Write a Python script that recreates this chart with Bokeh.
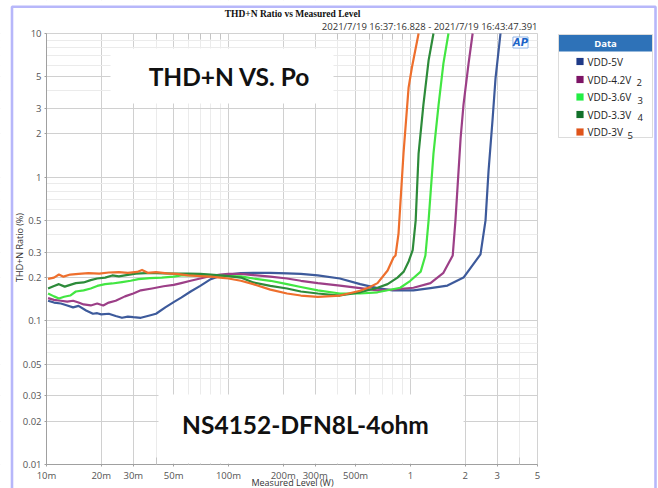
from bokeh.plotting import figure
from bokeh.models import FixedTicker, Label, BoxAnnotation, LogAxis
from bokeh.embed import file_html
from bokeh.resources import INLINE
import math

# ---------------- data ----------------
series_names = ["VDD-5V", "VDD-4.2V", "VDD-3.6V", "VDD-3.3V", "VDD-3V"]
series_tags = ["", "2", "3", "4", "5"]

vdd5_p = [0.0102, 0.011, 0.012, 0.013, 0.014, 0.015, 0.0165, 0.018, 0.019, 0.020, 0.022, 0.024, 0.026,
          0.028, 0.030, 0.033, 0.036, 0.040, 0.045, 0.05, 0.055, 0.062, 0.070, 0.080, 0.09, 0.10, 0.117,
          0.137, 0.17, 0.21, 0.25, 0.31, 0.41, 0.53, 0.66, 0.80, 1.04, 1.29, 1.60, 1.96, 2.43, 2.59,
          2.69, 2.83, 2.94, 3.13]
vdd5_thd = [0.138, 0.134, 0.132, 0.128, 0.124, 0.127, 0.118, 0.112, 0.113, 0.111, 0.112, 0.108, 0.105,
            0.107, 0.106, 0.105, 0.108, 0.112, 0.124, 0.135, 0.145, 0.160, 0.175, 0.195, 0.205, 0.210,
            0.215, 0.216, 0.216, 0.214, 0.212, 0.207, 0.197, 0.180, 0.169, 0.163, 0.163, 0.169, 0.176,
            0.200, 0.290, 0.50, 1.10, 2.5, 4.9, 10.0]

vdd42_p = [0.0102, 0.011, 0.012, 0.013, 0.014, 0.015, 0.016, 0.0175, 0.019, 0.0205, 0.022, 0.024,
           0.027, 0.030, 0.033, 0.038, 0.044, 0.050, 0.055, 0.062, 0.070, 0.080, 0.090, 0.10, 0.117,
           0.137, 0.17, 0.21, 0.25, 0.31, 0.41, 0.53, 0.66, 0.80, 1.04, 1.29, 1.52, 1.71, 1.77, 1.89,
           1.96, 2.09, 2.20]
vdd42_thd = [0.144, 0.140, 0.138, 0.136, 0.138, 0.134, 0.130, 0.128, 0.132, 0.128, 0.134, 0.138,
             0.148, 0.155, 0.163, 0.168, 0.174, 0.178, 0.183, 0.190, 0.197, 0.205, 0.210, 0.212, 0.212,
             0.208, 0.203, 0.197, 0.190, 0.183, 0.176, 0.169, 0.163, 0.165, 0.170, 0.183, 0.216, 0.285,
             0.50, 1.88, 3.2, 6.2, 10.0]

vdd36_p = [0.0102, 0.011, 0.0117, 0.0125, 0.0135, 0.0145, 0.016, 0.0175, 0.019, 0.021, 0.023, 0.026,
           0.029, 0.032, 0.037, 0.043, 0.05, 0.055, 0.065, 0.08, 0.09, 0.10, 0.117, 0.137, 0.17, 0.21,
           0.25, 0.31, 0.41, 0.53, 0.66, 0.88, 1.0, 1.14, 1.21, 1.26, 1.34, 1.43, 1.52, 1.62]
vdd36_thd = [0.155, 0.148, 0.143, 0.147, 0.150, 0.160, 0.163, 0.168, 0.175, 0.180, 0.182, 0.186,
             0.190, 0.195, 0.198, 0.200, 0.203, 0.207, 0.208, 0.207, 0.206, 0.205, 0.204, 0.197, 0.190,
             0.180, 0.172, 0.163, 0.155, 0.155, 0.158, 0.170, 0.190, 0.220, 0.285, 0.50, 1.46, 3.2,
             6.2, 10.0]

vdd33_p = [0.0102, 0.011, 0.0117, 0.0126, 0.0135, 0.0145, 0.016, 0.0175, 0.019, 0.021, 0.023, 0.025,
           0.028, 0.031, 0.035, 0.040, 0.050, 0.060, 0.070, 0.080, 0.09, 0.10, 0.117, 0.137, 0.17,
           0.21, 0.25, 0.31, 0.41, 0.53, 0.66, 0.75, 0.85, 0.92, 0.98, 1.03, 1.07, 1.11, 1.18, 1.26,
           1.34]
vdd33_thd = [0.168, 0.175, 0.180, 0.173, 0.178, 0.183, 0.185, 0.192, 0.197, 0.200, 0.207, 0.204,
             0.209, 0.213, 0.215, 0.215, 0.213, 0.213, 0.212, 0.210, 0.207, 0.205, 0.200, 0.185, 0.175,
             0.168, 0.160, 0.155, 0.150, 0.158, 0.170, 0.180, 0.200, 0.220, 0.260, 0.310, 0.50, 1.46,
             3.2, 6.5, 10.0]

vdd3_p = [0.0102, 0.011, 0.0117, 0.0124, 0.0135, 0.015, 0.017, 0.0195, 0.022, 0.025, 0.028, 0.0315,
          0.0335, 0.036, 0.040, 0.046, 0.052, 0.060, 0.070, 0.080, 0.090, 0.10, 0.117, 0.137, 0.17,
          0.21, 0.25, 0.31, 0.41, 0.53, 0.60, 0.66, 0.75, 0.808, 0.829, 0.861, 0.917, 0.978, 1.02, 1.11]
vdd3_thd = [0.196, 0.200, 0.210, 0.203, 0.210, 0.212, 0.215, 0.213, 0.217, 0.218, 0.216, 0.219,
            0.226, 0.216, 0.218, 0.214, 0.212, 0.207, 0.205, 0.203, 0.200, 0.197, 0.190, 0.180, 0.165,
            0.155, 0.150, 0.147, 0.150, 0.162, 0.172, 0.183, 0.224, 0.276, 0.285, 0.405, 1.46, 4.2,
            5.8, 10.0]

series_p = [vdd5_p, vdd42_p, vdd36_p, vdd33_p, vdd3_p]
series_thd = [vdd5_thd, vdd42_thd, vdd36_thd, vdd33_thd, vdd3_thd]
line_colors = ["#3d5a9b", "#9c3f87", "#42e642", "#2d8b3a", "#ee6f2d"]
key_colors = ["#1f3a87", "#7d1466", "#22ee44", "#12702a", "#e0541a"]

x_ticks = [0.01, 0.02, 0.03, 0.05, 0.1, 0.2, 0.3, 0.5, 1, 2, 3, 5]
x_tick_labels = ["10m", "20m", "30m", "50m", "100m", "200m", "300m", "500m", "1", "2", "3", "5"]
y_ticks = [0.01, 0.02, 0.03, 0.05, 0.1, 0.2, 0.3, 0.5, 1, 2, 3, 5, 10]
y_tick_labels = ["0.01", "0.02", "0.03", "0.05", "0.1", "0.2", "0.3", "0.5", "1", "2", "3", "5", "10"]
X_MIN, X_MAX = 0.01, 5
Y_MIN, Y_MAX = 0.01, 10

# ---------------- layout (pixel positions of the plot area on the canvas) ----------------
W, H = 658, 488
PL, PT, PR, PB = 46, 33, 537, 464
xpd = (PR - PL) / math.log10(X_MAX / X_MIN)
ypd = (PB - PT) / math.log10(Y_MAX / Y_MIN)
x_lo = 10 ** (math.log10(X_MIN) - PL / xpd)
x_hi = 10 ** (math.log10(X_MAX) + (W - PR) / xpd)
y_lo = 10 ** (math.log10(Y_MIN) - (H - PB) / ypd)
y_hi = 10 ** (math.log10(Y_MAX) + PT / ypd)

p = figure(width=W, height=H, x_axis_type="log", y_axis_type="log",
           x_range=(x_lo, x_hi), y_range=(y_lo, y_hi),
           output_backend="svg", toolbar_location=None,
           min_border_left=0, min_border_top=0, min_border_right=0, min_border_bottom=0)
p.background_fill_color = "white"
p.border_fill_color = "white"
p.outline_line_color = None


def minor_list(lo_exp, hi_exp, limit):
    out = []
    for e in range(lo_exp, hi_exp + 1):
        for m in (4, 6, 7, 8, 9):
            v = m * 10 ** e
            if v <= limit:
                out.append(v)
    return out


x_minor = minor_list(-2, 0, X_MAX)
p.xaxis.ticker = FixedTicker(ticks=x_ticks, minor_ticks=x_minor)
p.yaxis.ticker = FixedTicker(ticks=y_ticks, minor_ticks=minor_list(-2, 0, Y_MAX))
p.xaxis.major_label_overrides = {t: l for t, l in zip(x_ticks, x_tick_labels)}
p.yaxis.major_label_overrides = {t: l for t, l in zip(y_ticks, y_tick_labels)}
p.xaxis.fixed_location = Y_MIN
p.yaxis.fixed_location = X_MIN
p.xaxis.bounds = (X_MIN, X_MAX)
p.yaxis.bounds = (Y_MIN, Y_MAX)

for ax in (p.xaxis, p.yaxis):
    ax.axis_line_color = "#a0a0a0"
    ax.major_tick_line_color = "#a0a0a0"
    ax.major_tick_out = 2
    ax.major_tick_in = 0
    ax.minor_tick_out = 0
    ax.minor_tick_in = 0
    ax.major_label_text_font = "Open Sans"
    ax.major_label_text_font_size = "9.5px"
    ax.major_label_text_color = "#555555"
p.xaxis.minor_tick_in = 7
p.xaxis.minor_tick_line_color = "#c4c4c4"
p.xaxis.major_label_standoff = 2
p.yaxis.major_label_standoff = 3

for g in (p.xgrid, p.ygrid):
    g.grid_line_color = "#d0d0d0"
    g.grid_line_width = 1
    g.minor_grid_line_color = "#ebebeb"
    g.minor_grid_line_width = 1


def box(x0, y0, x1, y1, **kw):
    b = BoxAnnotation(left=x0, right=x1, top=H - y0, bottom=H - y1,
                      left_units="screen", right_units="screen",
                      top_units="screen", bottom_units="screen", **kw)
    p.add_layout(b)
    return b


# white strips that hide the grid outside the plotting area
for (x0, y0, x1, y1) in [(-5, -5, PL, H + 5), (PR, -5, W + 5, H + 5),
                         (-5, -5, W + 5, PT), (-5, PB, W + 5, H + 5)]:
    box(x0, y0, x1, y1, fill_color="white", fill_alpha=1.0, line_alpha=0, level="underlay")

# plot-area border
p.add_layout(BoxAnnotation(left=X_MIN, right=X_MAX, bottom=Y_MIN, top=Y_MAX, fill_alpha=0,
                           line_color="#a0a0a0", line_width=1, level="underlay"))

# minor tick marks along the top edge
top_axis = LogAxis(ticker=FixedTicker(ticks=x_ticks, minor_ticks=x_minor), fixed_location=Y_MAX,
                   bounds=(X_MIN, X_MAX), axis_line_color=None, major_tick_in=0, major_tick_out=0,
                   minor_tick_in=6, minor_tick_out=0, minor_tick_line_color="#c4c4c4",
                   major_label_text_alpha=0, major_label_text_font_size="1px")
p.add_layout(top_axis, "above")

for xs, ys, c in zip(series_p, series_thd, line_colors):
    p.line(xs, ys, line_color=c, line_width=2.2, line_join="round")


def label(text, x, y, size, font="Open Sans", color="#222222", style="normal",
          align="left", baseline="middle", angle=0.0, **kw):
    lb = Label(x=x, y=H - y, x_units="screen", y_units="screen", text=text,
               text_font=font, text_font_size=size, text_color=color,
               text_font_style=style, text_align=align, text_baseline=baseline,
               angle=angle, **kw)
    p.add_layout(lb)
    return lb


# white boxes behind annotations
box(110, 48, 333, 103, fill_color="white", fill_alpha=1.0, line_alpha=0)
box(158, 394, 463, 463, fill_color="white", fill_alpha=1.0, line_alpha=0)
label("THD+N VS. Po", 229, 76, "24.5px", font="Lato", color="#111111", style="bold", align="center")
label("NS4152-DFN8L-4ohm", 305, 424, "24.5px", font="Lato", color="#111111", style="bold", align="center")

# titles
label("THD+N Ratio vs Measured Level", 292, 13, "9.5px", font="Liberation Serif",
      color="#111111", style="bold", align="center")
label("2021/7/19 16:37:16.828 - 2021/7/19 16:43:47.391", 537, 26, "9.5px",
      color="#333333", align="right")

# AP logo
label("AP", 520, 42, "10px", font="DejaVu Sans", color="#1b64c8", style="bold italic",
      align="center", background_fill_color="white", border_line_color="#8fb4e6",
      border_line_width=1)

# axis titles
label("THD+N Ratio (%)", 19, 247, "9px", color="#333333", align="center", angle=math.pi / 2)
label("Measured Level (W)", 292, 482, "9px", color="#333333", align="center")

# legend
LX0, LX1, LY0, LY1 = 558, 652, 34, 137
box(LX0, LY0, LX1, LY1, fill_color="white", fill_alpha=1.0, line_color="#8a8a8a", line_width=1)
box(LX0 + 0.5, LY0 + 0.5, LX1 - 0.5, 51, fill_color="#2e72b8", fill_alpha=1.0, line_alpha=0)
label("Data", (LX0 + LX1) / 2, 43, "9.5px", color="white", style="bold", align="center")
row_y = [61, 79, 96.5, 114, 131.5]
tag_x = [0, 636, 637, 637, 627]
for name, tag, c, ry, tx in zip(series_names, series_tags, key_colors, row_y, tag_x):
    box(576, ry - 3.5, 583, ry + 3.5, fill_color=c, fill_alpha=1.0, line_color=c, line_width=0.5)
    label(name, 587, ry, "10px", color="#222222")
    if tag:
        label(tag, tx, ry + 3, "9.5px", color="#222222")

# outer blue frame
box(11.5, 6.2, 655, H + 20, fill_alpha=0, line_color="#1010ee", line_width=2.6)

open("out.html", "w").write(file_html(p, INLINE))
